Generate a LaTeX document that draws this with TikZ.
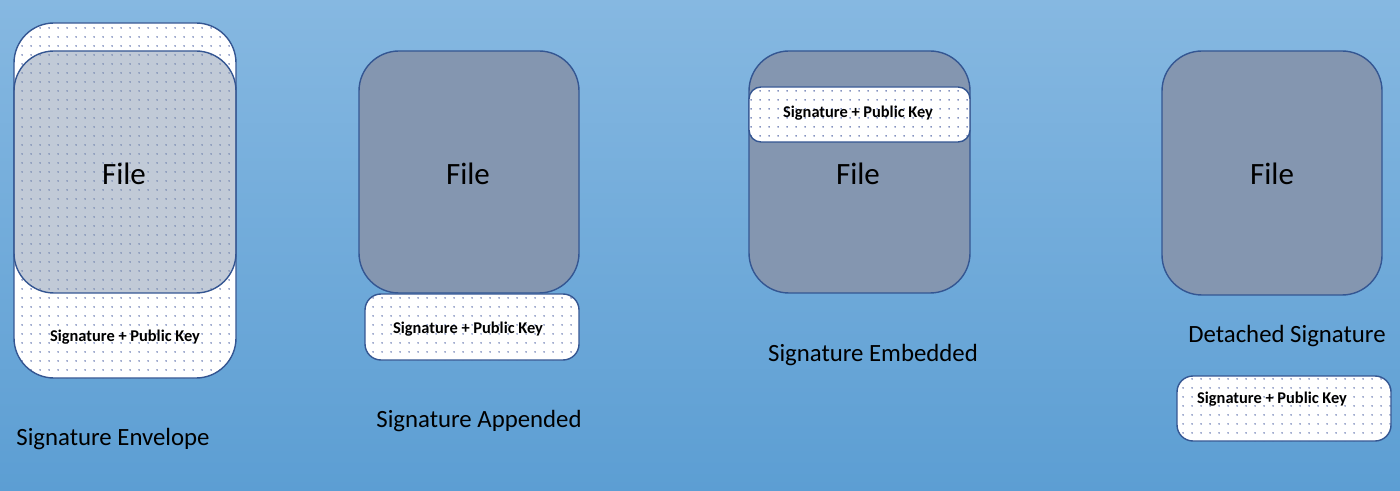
\documentclass[tikz,border=0pt]{standalone}
\usepackage{fontspec}
\setmainfont{Carlito}
\usetikzlibrary{patterns.meta}
\definecolor{bgTop}{RGB}{134,184,225}
\definecolor{bgBottom}{RGB}{92,158,211}
\definecolor{fileGray}{RGB}{132,150,176}
\definecolor{edgeBlue}{RGB}{52,86,146}
\definecolor{dotBlue}{RGB}{70,92,160}
\tikzdeclarepattern{name=sigdots, type=uncolored,
  bounding box={(0pt,0pt) and (4.5pt,4.5pt)}, tile size={(4.5pt,4.5pt)},
  code={\fill (2.25pt,2.25pt) circle (0.45pt);}}
\tikzset{
  filebox/.style={draw=edgeBlue, line width=0.7pt, fill=fileGray, rounded corners=20pt},
  sigbox/.style={draw=edgeBlue, line width=0.7pt, preaction={fill=white},
    pattern=sigdots, pattern color=dotBlue},
  filetext/.style={font=\fontsize{15.5}{18}\selectfont},
  sigtext/.style={font=\fontsize{8.2}{10}\selectfont\bfseries},
  captext/.style={font=\fontsize{12.4}{14}\selectfont}
}
\begin{document}
\begin{tikzpicture}[x=0.5pt, y=-0.5pt]
% Background
\shade[top color=bgTop, bottom color=bgBottom] (0,0) rectangle (1400,491);
\useasboundingbox (0,0) rectangle (1400,491);
% Signature envelope
\draw[sigbox, rounded corners=20pt] (14,23) rectangle (236,378);
\draw[filebox, fill opacity=0.5] (14,51) rectangle (236,293);
\node[filetext] (envFile) at (124,174) {File};
\node[sigtext] (envSig) at (125,337) {Signature + Public Key};
\node[captext] (envCap) at (113,439) {Signature Envelope};
% Signature appended
\draw[filebox] (359,51) rectangle (579,293);
\draw[sigbox, rounded corners=8pt] (365,294) rectangle (579,360);
\node[filetext] (appFile) at (468,174) {File};
\node[sigtext] (appSig) at (468,329) {Signature + Public Key};
\node[captext] (appCap) at (479,421) {Signature Appended};
% Signature embedded
\draw[filebox] (749,51) rectangle (970,293);
\draw[sigbox, rounded corners=6pt] (749,87) rectangle (970,142);
\node[filetext] (embFile) at (858,174) {File};
\node[sigtext] (embSig) at (858,113) {Signature + Public Key};
\node[captext] (embCap) at (873,355) {Signature Embedded};
% Detached signature
\draw[filebox] (1162,51) rectangle (1382,295);
\draw[sigbox, rounded corners=8pt] (1177,376) rectangle (1391,441);
\node[filetext] (detFile) at (1272,174) {File};
\node[captext] (detCap) at (1287,336) {Detached Signature};
\node[sigtext] (detSig) at (1272,399) {Signature + Public Key};
\end{tikzpicture}
\end{document}
